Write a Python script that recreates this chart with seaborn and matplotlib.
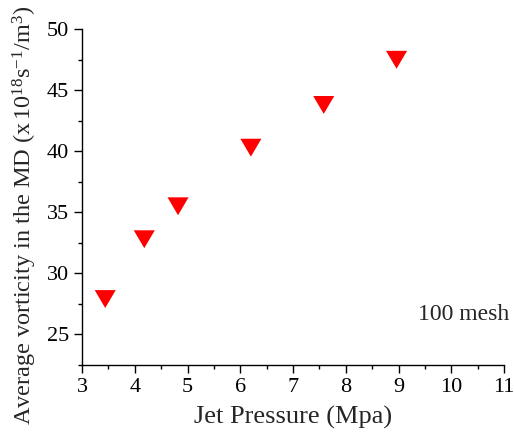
import matplotlib
matplotlib.use("Agg")
import matplotlib.pyplot as plt
import seaborn as sns
import pandas as pd
from matplotlib.ticker import MultipleLocator

pressure = [3.44, 4.18, 4.82, 6.20, 7.58, 8.96]
vorticity = [27.9, 32.8, 35.5, 40.3, 43.8, 47.5]
x_ticks = [3, 4, 5, 6, 7, 8, 9, 10, 11]
y_ticks = [25, 30, 35, 40, 45, 50]

sns.set_style("ticks")
plt.rcParams['font.family'] = ['Liberation Serif', 'DejaVu Serif']
plt.rcParams['mathtext.fontset'] = 'custom'
plt.rcParams['mathtext.rm'] = 'Liberation Serif'
plt.rcParams['mathtext.it'] = 'Liberation Serif:italic'

df = pd.DataFrame({"p": pressure, "v": vorticity})

fig = plt.figure(figsize=(5.14, 4.40), dpi=100)
ax = fig.add_axes([0.1595, 0.1705, 0.8215, 0.763])

tri = [(-1.0, 0.85), (1.0, 0.85), (0.0, -0.85), (-1.0, 0.85)]
sns.scatterplot(data=df, x="p", y="v", ax=ax, marker=tri, color="#ff0000",
                s=230, edgecolor="none", linewidth=0, legend=False)

ax.set_xlim(3, 11)
ax.set_ylim(22.5, 50)
ax.set_xticks(x_ticks)
ax.set_yticks(y_ticks)
ax.xaxis.set_minor_locator(MultipleLocator(0.5))
ax.yaxis.set_minor_locator(MultipleLocator(2.5))
ax.tick_params(which='major', direction='out', length=6, width=1, labelsize=16, color='black', labelcolor='black')
ax.tick_params(which='minor', direction='out', length=3, width=1, color='black')
for s in ['left', 'bottom']:
    ax.spines[s].set_linewidth(1)
    ax.spines[s].set_color('black')
sns.despine(ax=ax)

ax.set_xlabel("Jet Pressure (Mpa)", fontsize=19, labelpad=6)
ax.set_ylabel(r"Average vorticity in the MD ($\mathrm{x\,10^{18}s^{-1}/m^{3}}$)", fontsize=17.5)
ax.yaxis.set_label_coords(-0.102, 0.447)
ax.text(11.1, 26.6, "100 mesh", fontsize=17, ha='right', va='center')

fig.savefig("out.png", dpi=100)
